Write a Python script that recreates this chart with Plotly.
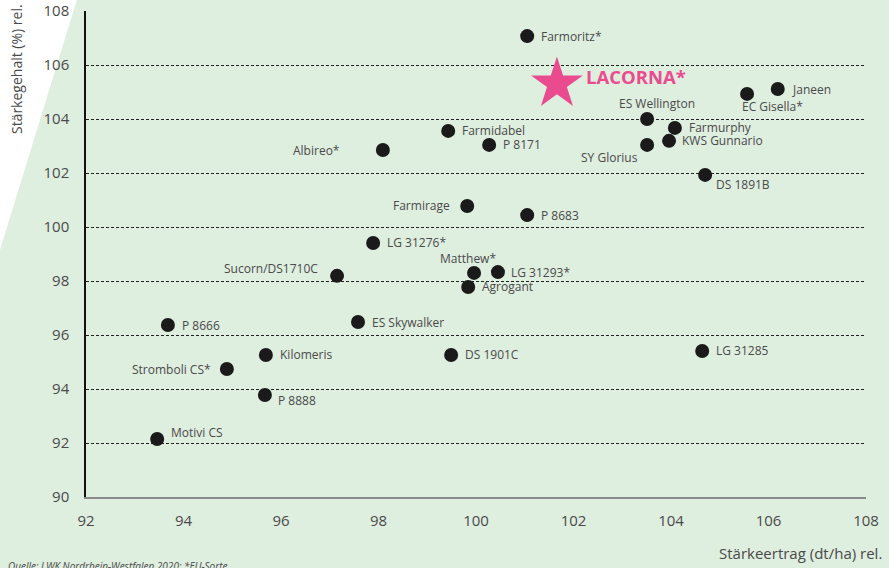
import plotly.graph_objects as go

# ---- data ----
varieties = ["Farmoritz*", "Janeen", "EC Gisella*", "ES Wellington", "Farmurphy",
             "KWS Gunnario", "SY Glorius", "DS 1891B", "Farmidabel", "P 8171",
             "Albireo*", "Farmirage", "P 8683", "LG 31276*", "Sucorn/DS1710C",
             "Matthew*", "LG 31293*", "Agrogant", "P 8666", "ES Skywalker",
             "Kilomeris", "DS 1901C", "Stromboli CS*", "P 8888", "Motivi CS", "LG 31285"]
yield_rel = [101.05, 106.19, 105.56, 103.51, 104.08,
             103.96, 103.51, 104.70, 99.43, 100.27,
             98.09, 99.82, 101.05, 97.89, 97.15,
             99.96, 100.45, 99.84, 93.68, 97.58,
             95.69, 99.49, 94.89, 95.67, 93.46, 104.64]
starch_rel = [107.07, 105.11, 104.93, 104.00, 103.67,
              103.19, 103.04, 101.93, 103.56, 103.04,
              102.85, 100.78, 100.44, 99.41, 98.19,
              98.30, 98.33, 97.78, 96.37, 96.48,
              95.26, 95.26, 94.74, 93.78, 92.15, 95.41]

highlight_name = "LACORNA*"
highlight_yield = 101.66
highlight_starch = 105.30

x_ticks = [92, 94, 96, 98, 100, 102, 104, 106, 108]
y_ticks = [90, 92, 94, 96, 98, 100, 102, 104, 106, 108]

x_title = "Stärkeertrag (dt/ha) rel."
y_title = "Stärkegehalt (%) rel."
source_note = "Quelle: LWK Nordrhein-Westfalen 2020; *EU-Sorte"

# ---- label placement (style): (xanchor, xshift, yshift) ----
R = ("left", 12, 0)
label_pos = {
    "Farmoritz*": R, "Janeen": R, "Farmurphy": R, "KWS Gunnario": ("left", 11, 0),
    "Farmidabel": R, "P 8171": R, "P 8683": R, "LG 31276*": R, "LG 31293*": ("left", 11, 0),
    "Agrogant": R, "P 8666": R, "ES Skywalker": R, "Kilomeris": R, "DS 1901C": R,
    "LG 31285": R,
    "EC Gisella*": ("left", -7, -13),
    "ES Wellington": ("center", 10, 16),
    "SY Glorius": ("right", -7, -13),
    "DS 1891B": ("left", 9, -10),
    "Albireo*": ("right", -41, 0),
    "Farmirage": ("right", -15, 0),
    "Sucorn/DS1710C": ("right", -17, 7),
    "Matthew*": ("center", -6, 14),
    "Stromboli CS*": ("right", -14, 0),
    "P 8888": ("left", 11, -6),
    "Motivi CS": ("left", 12, 6),
}

GREEN = "#deeedf"
PINK = "#ea4b8f"
TEXT = "#4a4a4a"
FONT = "Open Sans"

fig = go.Figure()
fig.add_trace(go.Scatter(
    x=yield_rel, y=starch_rel, mode="markers", text=varieties,
    marker=dict(color="#1a1a1a", size=14, line=dict(width=0)),
    hoverinfo="text", showlegend=False))
fig.add_trace(go.Scatter(
    x=[highlight_yield], y=[highlight_starch], mode="markers",
    marker=dict(color=PINK, size=39, symbol="star", line=dict(width=0)),
    showlegend=False))

annotations = []
for name, xv, yv in zip(varieties, yield_rel, starch_rel):
    xa, xs, ys = label_pos[name]
    annotations.append(dict(x=xv, y=yv, xref="x", yref="y", text=name, showarrow=False,
                            xanchor=xa, yanchor="middle", xshift=xs, yshift=ys,
                            font=dict(family=FONT, size=12, color=TEXT)))
annotations.append(dict(x=highlight_yield, y=highlight_starch, xref="x", yref="y",
                        text="<b>" + highlight_name + "</b>", showarrow=False,
                        xanchor="left", yanchor="middle", xshift=27, yshift=7,
                        font=dict(family=FONT, size=18.5, color=PINK)))
annotations.append(dict(x=-0.0897, y=1.0185, xref="paper", yref="paper", text=y_title,
                        textangle=-90, showarrow=False, xanchor="center", yanchor="top",
                        font=dict(family=FONT, size=14, color=TEXT)))
annotations.append(dict(x=1.023, y=-0.1152, xref="paper", yref="paper", text=x_title,
                        showarrow=False, xanchor="right", yanchor="middle",
                        font=dict(family=FONT, size=15, color=TEXT)))
annotations.append(dict(x=-0.1026, y=-0.142, xref="paper", yref="paper",
                        text="<i>" + source_note + "</i>",
                        showarrow=False, xanchor="left", yanchor="middle",
                        font=dict(family=FONT, size=10, color=TEXT)))

fig.update_layout(
    width=889, height=568,
    margin=dict(l=86, r=23, t=11, b=71, autoexpand=False),
    paper_bgcolor=GREEN, plot_bgcolor="rgba(0,0,0,0)",
    annotations=annotations,
    shapes=[dict(type="path", xref="paper", yref="paper",
                 path="M -0.115,1.03 L -0.0103,1.03 L -0.115,0.4835 Z",
                 fillcolor="white", line=dict(width=0), layer="below")],
    xaxis=dict(range=[92, 108], tickvals=x_ticks, showgrid=False, zeroline=False,
               showline=True, linecolor="#8a8a8a", linewidth=1.5, automargin=False,
               ticks="outside", ticklen=9, tickcolor="rgba(0,0,0,0)",
               tickfont=dict(family=FONT, size=15, color=TEXT)),
    yaxis=dict(range=[90, 108], tickvals=y_ticks, showgrid=True, gridcolor="#222222",
               gridwidth=1, griddash="3px,2px", zeroline=False, automargin=False,
               showline=True, linecolor="#111111", linewidth=1.5,
               ticks="outside", ticklen=12, tickcolor="rgba(0,0,0,0)",
               tickfont=dict(family=FONT, size=15, color=TEXT)),
)

fig.write_html("out.html", config={"displayModeBar": False},
               post_script="document.body.style.margin='0';")
